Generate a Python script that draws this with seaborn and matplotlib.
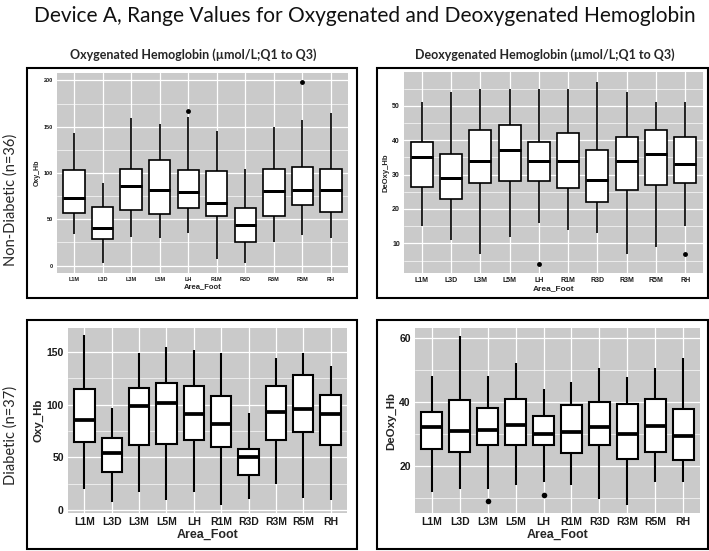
import numpy as np
import pandas as pd
import matplotlib
matplotlib.use('Agg')
import matplotlib.pyplot as plt
import seaborn as sns

areas = ['L1M', 'L3D', 'L3M', 'L5M', 'LH', 'R1M', 'R3D', 'R3M', 'R5M', 'RH']

# Non-Diabetic, oxygenated Hb: whisker low, Q1, median, Q3, whisker high
nd_oxy_low = [34, 3, 31, 30, 35, 7, 3, 26, 33, 30]
nd_oxy_q1 = [57, 29, 60, 56, 62, 54, 26, 54, 65, 58]
nd_oxy_med = [73, 41, 86, 82, 79, 68, 44, 81, 82, 82]
nd_oxy_q3 = [103, 63, 104, 114, 103, 102, 62, 104, 107, 104]
nd_oxy_high = [143, 89, 159, 153, 161, 145, 104, 150, 157, 165]
nd_oxy_out_area = ['LH', 'R5M']
nd_oxy_out_val = [167, 198]

# Non-Diabetic, deoxygenated Hb
nd_deoxy_low = [15, 11, 7, 12, 16, 14, 13, 7, 9, 15]
nd_deoxy_q1 = [26.5, 23, 27.5, 28, 28, 26, 22, 25.5, 27, 27.5]
nd_deoxy_med = [35, 29, 34, 37, 34, 34, 28.5, 34, 36, 33]
nd_deoxy_q3 = [39.5, 36, 43, 44.5, 39.5, 42, 37, 41, 43, 41]
nd_deoxy_high = [51, 54, 55, 55, 55, 55, 57, 54, 51, 51]
nd_deoxy_out_area = ['LH', 'RH']
nd_deoxy_out_val = [4, 7]

# Diabetic, oxygenated Hb
d_oxy_low = [20, 7, 17, 9.5, 17, 5, 10, 25, 11, 9]
d_oxy_q1 = [65, 36, 62, 63, 66, 60, 33, 66, 74, 62]
d_oxy_med = [85, 54, 99, 102, 91, 82, 50, 93, 96, 91]
d_oxy_q3 = [115, 68, 116, 121, 118, 108, 58, 118, 128, 109]
d_oxy_high = [166, 97, 149, 155, 152, 149, 92, 144, 149, 137]
d_oxy_out_area = []
d_oxy_out_val = []

# Diabetic, deoxygenated Hb
d_deoxy_low = [12, 13, 13, 14, 15, 14, 9.7, 7.8, 15, 15]
d_deoxy_q1 = [25.4, 24.4, 26.6, 26.6, 26.6, 24.1, 26.6, 22.1, 24.5, 21.9]
d_deoxy_med = [32.2, 30.9, 31.3, 32.7, 30.1, 30.6, 32.2, 30, 32.6, 29.4]
d_deoxy_q3 = [36.7, 40.6, 38.2, 41, 35.5, 38.9, 40.1, 39.2, 40.8, 37.9]
d_deoxy_high = [48, 60.4, 48, 52.2, 43.9, 46.2, 50.6, 47.6, 50.6, 53.8]
d_deoxy_out_area = ['L3M', 'LH']
d_deoxy_out_val = [9, 10.9]

W, H = 709, 551

sns.set_theme(style='darkgrid', rc={'axes.facecolor': '#cacaca', 'grid.color': 'white'})
plt.rcParams['font.family'] = ['Liberation Sans', 'DejaVu Sans']

fig = plt.figure(figsize=(W / 100, H / 100), dpi=100)


def px_axes(x0, y0, x1, y1):
    return fig.add_axes([x0 / W, 1 - y1 / H, (x1 - x0) / W, (y1 - y0) / H])


def five_num_frame(low, q1, med, q3, high, col):
    rows = []
    for i, a in enumerate(areas):
        for v in (low[i], q1[i], med[i], q3[i], high[i]):
            rows.append({'Area_Foot': a, col: v})
    return pd.DataFrame(rows)


def panel(ax, low, q1, med, q3, high, out_a, out_v, col, ylim, major, minor,
          tick_fs, lab_fs, lw, dot):
    df = five_num_frame(low, q1, med, q3, high, col)
    sns.boxplot(data=df, x='Area_Foot', y=col, order=areas, whis=(0, 100),
                color='white', linecolor='black', linewidth=lw, width=0.75,
                saturation=1, showfliers=False, showcaps=False, ax=ax,
                medianprops={'linewidth': lw * 1.8})
    if out_a:
        odf = pd.DataFrame({'Area_Foot': out_a, col: out_v})
        sns.stripplot(data=odf, x='Area_Foot', y=col, order=areas, jitter=False,
                      color='black', size=dot, ax=ax)
    ax.set_xlim(-0.6, 9.6)
    ax.set_ylim(*ylim)
    ax.set_yticks(major)
    ax.set_yticks(minor, minor=True)
    ax.grid(which='major', color='white', linewidth=0.9)
    ax.grid(which='minor', axis='y', color='white', linewidth=0.45)
    ax.tick_params(which='major', length=2, width=0.6, color='#333333',
                   labelsize=tick_fs, labelcolor='#1a1a1a', pad=1)
    ax.tick_params(which='minor', length=0)
    for t in ax.get_xticklabels() + ax.get_yticklabels():
        t.set_fontweight('bold')
    for s in ax.spines.values():
        s.set_visible(False)
    ax.set_xlabel('Area_Foot', fontsize=lab_fs, fontweight='bold', labelpad=1)
    ax.set_ylabel(col, fontsize=lab_fs * 0.92, fontweight='bold', labelpad=2)


ax1 = px_axes(57, 73, 348, 273)
panel(ax1, nd_oxy_low, nd_oxy_q1, nd_oxy_med, nd_oxy_q3, nd_oxy_high,
      nd_oxy_out_area, nd_oxy_out_val, 'Oxy_Hb', (-8, 208),
      [0, 50, 100, 150, 200], [25, 75, 125, 175], 4, 5.5, 1.2, 3.5)

ax2 = px_axes(404, 72, 703, 273)
panel(ax2, nd_deoxy_low, nd_deoxy_q1, nd_deoxy_med, nd_deoxy_q3, nd_deoxy_high,
      nd_deoxy_out_area, nd_deoxy_out_val, 'DeOxy_Hb', (1.4, 59.8),
      [10, 20, 30, 40, 50], [5, 15, 25, 35, 45, 55], 5, 6, 1.2, 3.5)

ax3 = px_axes(68, 328, 347, 513)
panel(ax3, d_oxy_low, d_oxy_q1, d_oxy_med, d_oxy_q3, d_oxy_high,
      d_oxy_out_area, d_oxy_out_val, 'Oxy_Hb', (-3, 173),
      [0, 50, 100, 150], [25, 75, 125], 7.5, 9, 1.5, 4)

ax4 = px_axes(415, 328, 700, 513)
panel(ax4, d_deoxy_low, d_deoxy_q1, d_deoxy_med, d_deoxy_q3, d_deoxy_high,
      d_deoxy_out_area, d_deoxy_out_val, 'DeOxy_Hb', (5.4, 63),
      [20, 40, 60], [10, 30, 50], 7.5, 9, 1.5, 4)

# black frames around each panel
for x0, y0, x1, y1 in [(27, 68, 357, 298), (377, 68, 708, 298),
                       (27, 320, 357, 549), (377, 320, 708, 549)]:
    fig.add_artist(plt.Rectangle((x0 / W, 1 - y1 / H), (x1 - x0) / W, (y1 - y0) / H,
                                 transform=fig.transFigure, fill=False,
                                 edgecolor='black', linewidth=1.5))

fig.text(364.5 / W, 1 - 16 / H,
         'Device A, Range Values for Oxygenated and Deoxygenated Hemoglobin',
         ha='center', va='center', fontsize=15, color='#111111',
         family=['Lato', 'DejaVu Sans'])
fig.text(193 / W, 1 - 55 / H, 'Oxygenated Hemoglobin (\u00b5mol/L;Q1 to Q3)',
         ha='center', va='center', fontsize=9, fontweight='bold',
         family=['Lato', 'DejaVu Sans'])
fig.text(545 / W, 1 - 55 / H, 'Deoxygenated Hemoglobin (\u00b5mol/L;Q1 to Q3)',
         ha='center', va='center', fontsize=9, fontweight='bold',
         family=['Lato', 'DejaVu Sans'])
fig.text(11 / W, 1 - 200 / H, 'Non-Diabetic (n=36)', rotation=90,
         ha='center', va='center', fontsize=10.5, family=['Lato', 'DejaVu Sans'])
fig.text(11 / W, 1 - 435 / H, 'Diabetic (n=37)', rotation=90,
         ha='center', va='center', fontsize=10.5, family=['Lato', 'DejaVu Sans'])

fig.savefig('out.png', dpi=100, facecolor='white')
